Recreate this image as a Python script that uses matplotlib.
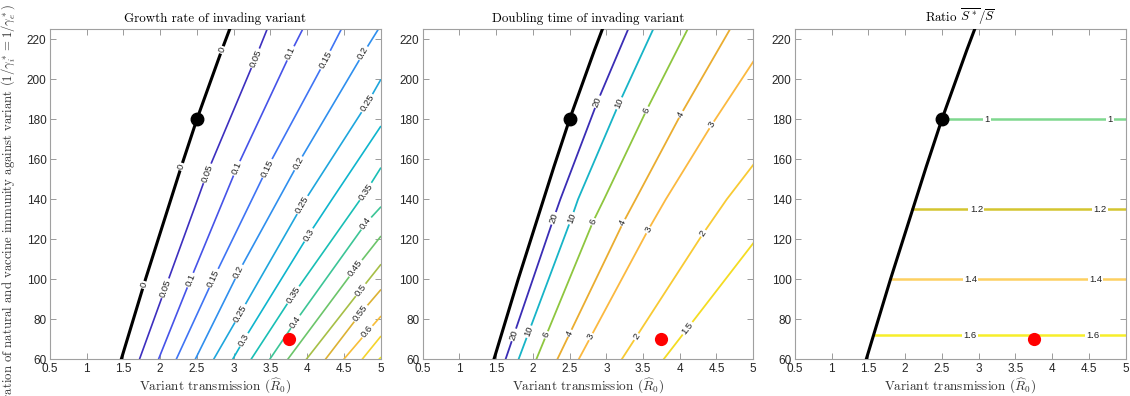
import numpy as np
import matplotlib
matplotlib.use('Agg')
import matplotlib.pyplot as plt
from matplotlib.ticker import FuncFormatter

plt.rcParams['mathtext.fontset'] = 'cm'
plt.rcParams['font.family'] = ['Liberation Sans', 'DejaVu Sans']

# ---------------- data ----------------
# invasion threshold (growth rate = 0), variant R0 vs immunity duration
thr_D = [60, 100, 156.3, 180, 214.7, 225]
thr_R = [1.47, 1.80, 2.287, 2.50, 2.84, 2.946]
thr_label_D = [214.7, 156.3, 97.2]

# growth-rate contour lines (left panel)
growth_levels = [0.05, 0.1, 0.15, 0.2, 0.25, 0.3, 0.35, 0.4, 0.45, 0.5, 0.55, 0.6, 0.65, 0.7]
growth_R = [[1.718, 2.069, 2.51, 2.638, 3.297, 3.456],
            [1.977, 2.41, 3.04, 3.774, 3.94],
            [2.219, 2.728, 3.456, 4.25, 4.466],
            [2.478, 3.07, 3.88, 4.766, 4.97],
            [2.728, 3.09, 3.98, 4.82, 5.0],
            [2.987, 3.14, 4.02, 4.34, 5.0],
            [3.238, 3.81, 4.80, 5.0],
            [3.492, 3.84, 4.80, 5.0],
            [3.737, 4.66, 5.0],
            [3.99, 4.73, 5.0],
            [4.25, 4.73, 5.0],
            [4.50, 4.82, 5.0],
            [4.75, 5.0],
            [4.98, 5.0]]
growth_D = [[60, 95.5, 140, 153, 210.5, 225],
            [60, 99.6, 155.5, 213, 225],
            [60, 100.5, 155.5, 209.6, 225],
            [60, 103.8, 158, 213, 225],
            [60, 83, 140, 188, 199.6],
            [60, 69.7, 122.2, 140, 176.3],
            [60, 92.2, 143.8, 155.5],
            [60, 78.8, 128, 136],
            [60, 105.5, 121.3],
            [60, 94.7, 107.2],
            [60, 83, 94.6],
            [60, 73.8, 81.3],
            [60, 71.3],
            [60, 60.8]]
growth_label_D = {0.05: [210.5, 153, 95.5], 0.1: [213, 155.5, 99.6],
                  0.15: [209.6, 155.5, 100.5], 0.2: [213, 158, 103.8], 0.25: [188, 137.2, 83],
                  0.3: [122.2, 69.7], 0.35: [143.8, 92.2], 0.4: [128, 78.8], 0.45: [105.5],
                  0.5: [94.7], 0.55: [83], 0.6: [73.8]}

# doubling-time contour lines (middle panel)
dbl_levels = [20, 10, 6, 4, 3, 2, 1.5]
dbl_R = [[1.628, 2.283, 2.374, 2.879, 3.297],
         [1.805, 2.525, 2.615, 3.174, 3.638],
         [2.047, 2.819, 2.969, 3.548, 4.107],
         [2.333, 3.229, 3.40, 4.016, 4.684],
         [2.624, 3.57, 3.81, 4.434, 5.0],
         [3.21, 4.32, 4.64, 5.0],
         [3.78, 5.0]]
dbl_D = [[60, 130.5, 140, 188.8, 225],
         [60, 130.5, 140, 188, 225],
         [60, 128.8, 140, 184.6, 225],
         [60, 128.3, 140, 182.5, 225],
         [60, 124.7, 140, 177.2, 208.8],
         [60, 123, 140, 157.2],
         [60, 118]]
dbl_label_D = {20: [188.8, 130.5, 72.2], 10: [188, 130.5, 73.8], 6: [184.6, 128.8, 72.2],
               4: [182.5, 128.3, 73], 3: [177.2, 124.7, 71.3], 2: [123, 71.3], 1.5: [75.5]}

# ratio contour lines (right panel): horizontal at fixed duration
ratio_levels = [1.0, 1.2, 1.4, 1.6]
ratio_D = [180, 135, 100, 72]
ratio_R_start = [2.50, 2.09, 1.80, 1.577]
ratio_R_end = [5.0, 5.0, 5.0, 5.0]
ratio_label_R = [[3.115, 4.79], [2.97, 4.65], [2.89, 4.59], [2.88, 4.55]]

point_black = (2.5, 180)
point_red = (3.75, 70)

# ---------------- styles ----------------
growth_colors = ['#3d2fbf', '#4653e8', '#3f74f4', '#2f8fee', '#1ea6dd', '#0eb5cd', '#19bfb5',
                 '#3cc596', '#6cc56a', '#a6bf46', '#dcb234', '#f7be39', '#f5d42c', '#f4ec1c']
dbl_colors = ['#3a2db5', '#17b4c7', '#8ec63f', '#eaad30', '#fbb940', '#f8ca33', '#f4dc22']
ratio_colors = ['#7fd88f', '#d4c530', '#fdd061', '#f7ee2a']

W, H = 1130, 396
fig = plt.figure(figsize=(W / 100, H / 100), dpi=100)

lefts = [50, 422.7, 795]
axw, top_px, bot_px = 330.5, 29.3, 359.3
axes = []
for l in lefts:
    ax = fig.add_axes([l / W, (H - bot_px) / H, axw / W, (bot_px - top_px) / H])
    ax.set_xlim(0.5, 5)
    ax.set_ylim(60, 225)
    ax.set_xticks(np.arange(0.5, 5.01, 0.5))
    ax.set_yticks(np.arange(60, 221, 20))
    ax.xaxis.set_major_formatter(FuncFormatter(lambda v, p: '%g' % v))
    ax.tick_params(direction='in', top=True, right=True, length=4, width=0.6,
                   color='#8a8a8a', labelsize=8.5, labelcolor='#262626', pad=2.5)
    for s in ax.spines.values():
        s.set_color('#a0a0a0')
        s.set_linewidth(0.8)
    ax.set_xlabel(r'Variant transmission $(\widehat{R}_0)$', fontfamily='cmr10',
                  fontsize=9.5, labelpad=1, color='#333333')
    axes.append(ax)

lab_kw = dict(ha='center', va='center', fontsize=6.8, color='#222222', rotation_mode='anchor',
              bbox=dict(boxstyle='square,pad=0.14', fc='white', ec='none'), zorder=4)


def put_labels(ax, Rs, Ds, level, dlist):
    pts = ax.transData.transform(np.column_stack([Rs, Ds]))
    for d in dlist:
        i = int(np.clip(np.searchsorted(Ds, d) - 1, 0, len(Ds) - 2))
        dx, dy = pts[i + 1] - pts[i]
        ang = np.degrees(np.arctan2(dy, dx))
        r = np.interp(d, Ds, Rs)
        ax.text(r, d, '%g' % level, rotation=ang, **lab_kw)


# left panel
ax = axes[0]
ax.plot(thr_R, thr_D, color='k', lw=2.2, zorder=3)
put_labels(ax, thr_R, thr_D, 0, thr_label_D)
for lev, Rs, Ds, c in zip(growth_levels, growth_R, growth_D, growth_colors):
    ax.plot(Rs, Ds, color=c, lw=1.2, zorder=2)
    if lev in growth_label_D:
        put_labels(ax, Rs, Ds, lev, growth_label_D[lev])
ax.set_title('Growth rate of invading variant', fontfamily='cmr10', fontsize=9.3, pad=5)

# middle panel
ax = axes[1]
ax.plot(thr_R, thr_D, color='k', lw=2.2, zorder=3)
for lev, Rs, Ds, c in zip(dbl_levels, dbl_R, dbl_D, dbl_colors):
    ax.plot(Rs, Ds, color=c, lw=1.3, zorder=2)
    put_labels(ax, Rs, Ds, lev, dbl_label_D[lev])
ax.set_title('Doubling time of invading variant', fontfamily='cmr10', fontsize=9.3, pad=5)

# right panel
ax = axes[2]
ax.plot(thr_R, thr_D, color='k', lw=2.2, zorder=3)
for lev, d, r0, r1, lr, c in zip(ratio_levels, ratio_D, ratio_R_start, ratio_R_end,
                                 ratio_label_R, ratio_colors):
    ax.plot([r0, r1], [d, d], color=c, lw=1.8, zorder=2)
    for r in lr:
        ax.text(r, d, '%g' % lev, rotation=0, **lab_kw)
ax.set_title(r'Ratio $\overline{S^*}/\overline{S}$', fontfamily='cmr10', fontsize=9.3, pad=5)

for ax in axes:
    ax.plot(*point_black, 'o', color='k', ms=9, zorder=5)
    ax.plot(*point_red, 'o', color='#ff0000', mec='none', ms=9.5, zorder=5)

fig.text(8 / W, 1 - 4 / H,
         r'Duration of natural and vaccine immunity against variant $(1/\gamma_i^* = 1/\gamma_e^*)$',
         rotation=90, ha='center', va='top', fontfamily='cmr10', fontsize=9.2, color='#333333')

fig.savefig('out.png', dpi=100, facecolor='white')
